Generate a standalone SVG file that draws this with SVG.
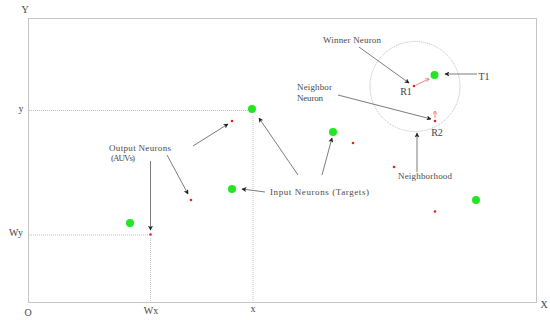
<svg xmlns="http://www.w3.org/2000/svg" width="550" height="320" viewBox="0 0 550 320">
<defs>
<style>
.frame{fill:none;stroke:#c4c4c4;stroke-width:1}
.dot{fill:none;stroke:#b0b0b0;stroke-width:0.8;stroke-dasharray:1 1}
.tgt{fill:#22e622}
.out{fill:#e8231f}
.lbl{font-family:"Liberation Serif",serif;font-size:9px;fill:#4a4a4a}
.ax{font-family:"Liberation Serif",serif;font-size:10px;fill:#444;text-anchor:middle}
.arr{fill:none;stroke:#5a5a5a;stroke-width:0.8;marker-end:url(#ah)}
.rarr{fill:none;stroke:#f06060;stroke-width:0.8;marker-end:url(#rh)}
</style>
<marker id="ah" viewBox="0 0 8 8" refX="7" refY="4" markerWidth="5" markerHeight="5" orient="auto" markerUnits="userSpaceOnUse">
<path d="M0,0 L8,4 L0,8 L2,4 Z" fill="#222"/>
</marker>
<marker id="rh" viewBox="0 0 8 8" refX="7" refY="4" markerWidth="4" markerHeight="4" orient="auto" markerUnits="userSpaceOnUse">
<path d="M0,0 L8,4 L0,8" fill="none" stroke="#f06060" stroke-width="1.2"/>
</marker>
</defs>
<rect width="550" height="320" fill="#ffffff"/>
<g id="axes">
<rect class="frame" x="28.5" y="18.5" width="508" height="284"/>
<text class="ax" x="25" y="13">Y</text>
<text class="ax" x="544" y="308">X</text>
<text class="ax" x="28" y="316">O</text>
<text class="ax" x="151" y="314">Wx</text>
<text class="ax" x="253" y="312">x</text>
<text class="ax" x="21" y="112">y</text>
<text class="ax" x="16" y="236">Wy</text>
</g>
<g id="guides">
<line class="dot" x1="29" y1="110.5" x2="248" y2="110.5"/>
<line class="dot" x1="253" y1="116" x2="253" y2="302"/>
<line class="dot" x1="29" y1="235" x2="148" y2="235"/>
<line class="dot" x1="150.5" y1="238" x2="150.5" y2="302"/>
</g>
<g id="neighborhood">
<circle cx="415" cy="86.5" r="45" fill="none" stroke="#a8a8a8" stroke-width="0.8" stroke-dasharray="1 1"/>
</g>
<g id="targets">
<circle id="t-top" class="tgt" cx="252" cy="109" r="4"/>
<circle id="t-left" class="tgt" cx="130" cy="223" r="4"/>
<circle id="t-mid" class="tgt" cx="232" cy="189" r="4"/>
<circle id="t-c" class="tgt" cx="333" cy="132" r="4"/>
<circle id="t1" class="tgt" cx="434.5" cy="75" r="4"/>
<circle id="t-right" class="tgt" cx="476" cy="200" r="4"/>
</g>
<g id="outputs">
<circle id="o-top" class="out" cx="232" cy="121" r="1.3"/>
<circle id="o-mid" class="out" cx="191" cy="200" r="1.3"/>
<circle id="o-w" class="out" cx="150.5" cy="234.5" r="1.3"/>
<circle id="o-c1" class="out" cx="353" cy="143" r="1.3"/>
<circle id="o-c2" class="out" cx="394" cy="167" r="1.3"/>
<circle id="o-r" class="out" cx="435" cy="211.5" r="1.3"/>
<circle id="r1" class="out" cx="414" cy="86" r="1.3"/>
<circle id="r2" class="out" cx="435" cy="121" r="1.3"/>
</g>
<g id="labels">
<text class="lbl" x="323" y="43" textLength="58" lengthAdjust="spacing">Winner Neuron</text>
<text class="lbl" x="297" y="90" textLength="35" lengthAdjust="spacing">Neighbor</text>
<text class="lbl" x="297" y="101" textLength="26" lengthAdjust="spacing">Neuron</text>
<text class="ax" x="406" y="95">R1</text>
<text class="ax" x="437" y="136">R2</text>
<text class="ax" x="484" y="80">T1</text>
<text class="lbl" x="398" y="179" textLength="54" lengthAdjust="spacing">Neighborhood</text>
<text class="lbl" x="109" y="151" textLength="62" lengthAdjust="spacing">Output Neurons</text>
<text class="lbl" x="111" y="161" textLength="24" lengthAdjust="spacing">(AUVs)</text>
<text class="lbl" x="270" y="195" textLength="99" lengthAdjust="spacing">Input Neurons (Targets)</text>
</g>
<g id="connectors">
<line class="arr" x1="359" y1="47" x2="409" y2="83"/>
<line class="arr" x1="338" y1="95" x2="431" y2="119"/>
<line class="arr" x1="477" y1="74" x2="445" y2="74"/>
<line class="arr" x1="417" y1="172" x2="417" y2="133"/>
<line class="arr" x1="193" y1="146" x2="228" y2="124"/>
<line class="arr" x1="167" y1="155" x2="188" y2="194"/>
<line class="arr" x1="150.5" y1="161" x2="150.5" y2="230"/>
<line class="arr" x1="265" y1="192" x2="242" y2="189"/>
<line class="arr" x1="298" y1="175" x2="259" y2="118"/>
<line class="arr" x1="322" y1="175" x2="332" y2="138"/>
<line class="rarr" x1="416" y1="85" x2="429" y2="79"/>
<line class="rarr" x1="435" y1="118" x2="435" y2="111"/>
</g>
</svg>
